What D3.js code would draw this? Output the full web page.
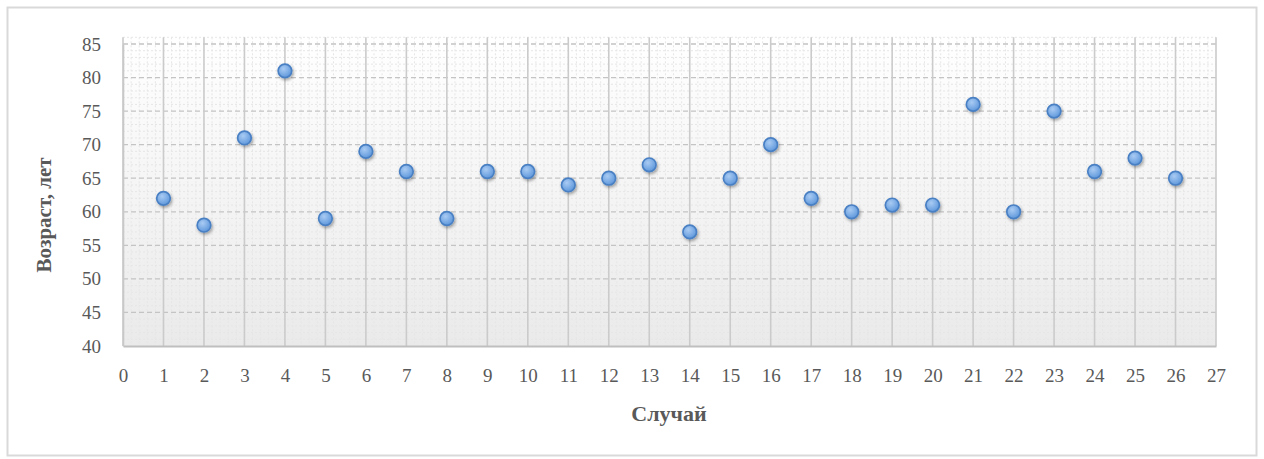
<!DOCTYPE html>
<html>
<head>
<meta charset="utf-8">
<script src="https://cdn.jsdelivr.net/npm/d3@7"></script>
<style>
  html, body { margin: 0; padding: 0; background: #fff; }
  svg { display: block; }
  .tick text { font-family: "Liberation Serif", "Times New Roman", serif; }
</style>
</head>
<body>
<svg id="chart" width="1264" height="459"></svg>
<script>
// Case numbers and patient ages
const cases = [1, 2, 3, 4, 5, 6, 7, 8, 9, 10, 11, 12, 13, 14, 15, 16, 17, 18, 19, 20, 21, 22, 23, 24, 25, 26];
const ages  = [62, 58, 71, 81, 59, 69, 66, 59, 66, 66, 64, 65, 67, 57, 65, 70, 62, 60, 61, 61, 76, 60, 75, 66, 68, 65];
const xTicks = d3.range(0, 28, 1);
const yTicks = d3.range(40, 90, 5);
const xTitle = "Случай";
const yTitle = "Возраст, лет";

const svg = d3.select("#chart");

// outer chart frame
svg.append("rect")
  .attr("x", 7.5).attr("y", 7.5).attr("width", 1249).attr("height", 448)
  .attr("fill", "#fff").attr("stroke", "#d9d9d9").attr("stroke-width", 2);

const x = d3.scaleLinear().domain([0, 27]).range([123, 1216]);
const y = d3.scaleLinear().domain([40, 85]).range([346, 44]);
const yTop = y(86);

const defs = svg.append("defs");
const bg = defs.append("linearGradient").attr("id", "plotBg")
  .attr("x1", 0).attr("y1", 0).attr("x2", 0).attr("y2", 1);
bg.append("stop").attr("offset", "0%").attr("stop-color", "#ffffff");
bg.append("stop").attr("offset", "100%").attr("stop-color", "#eaeaea");

const mk = defs.append("radialGradient").attr("id", "dotFill")
  .attr("cx", "40%").attr("cy", "35%").attr("r", "65%");
mk.append("stop").attr("offset", "0%").attr("stop-color", "#a9cbf3");
mk.append("stop").attr("offset", "100%").attr("stop-color", "#5f98dc");

const sh = defs.append("filter").attr("id", "dotShadow")
  .attr("x", "-50%").attr("y", "-50%").attr("width", "200%").attr("height", "200%");
sh.append("feDropShadow").attr("dx", 1.2).attr("dy", 1.8).attr("stdDeviation", 1.5)
  .attr("flood-color", "#000").attr("flood-opacity", 0.35);

// plot area
svg.append("rect")
  .attr("x", x(0)).attr("y", yTop)
  .attr("width", x(27) - x(0)).attr("height", y(40) - yTop)
  .attr("fill", "url(#plotBg)");

const grid = svg.append("g");

// minor gridlines
grid.selectAll("line.minx").data(d3.range(0, 27.001, 0.2).filter(v => Math.abs(v - Math.round(v)) > 1e-6))
  .join("line").attr("class", "minx")
  .attr("x1", d => x(d)).attr("x2", d => x(d))
  .attr("y1", yTop).attr("y2", y(40))
  .attr("stroke", "#e6e6e6").attr("stroke-width", 1).attr("stroke-dasharray", "2,2");
grid.selectAll("line.miny").data(d3.range(41, 87, 1).filter(v => v % 5 !== 0))
  .join("line").attr("class", "miny")
  .attr("x1", x(0)).attr("x2", x(27))
  .attr("y1", d => y(d)).attr("y2", d => y(d))
  .attr("stroke", "#e6e6e6").attr("stroke-width", 1).attr("stroke-dasharray", "2,2");

// major horizontal gridlines (dashed)
grid.selectAll("line.majy").data(yTicks.filter(v => v > 40))
  .join("line").attr("class", "majy")
  .attr("x1", x(0)).attr("x2", x(27))
  .attr("y1", d => y(d)).attr("y2", d => y(d))
  .attr("stroke", "#c4c4c4").attr("stroke-width", 1.3).attr("stroke-dasharray", "5,3");

// major vertical gridlines
grid.selectAll("line.majx").data(xTicks)
  .join("line").attr("class", "majx")
  .attr("x1", d => x(d)).attr("x2", d => x(d))
  .attr("y1", yTop).attr("y2", y(40))
  .attr("stroke", "#cbcbcb").attr("stroke-width", 1.6);

// axes
const xAxis = svg.append("g").attr("transform", `translate(0,${y(40)})`)
  .call(d3.axisBottom(x).tickValues(xTicks).tickSize(0).tickPadding(23).tickFormat(d3.format("d")));
xAxis.select(".domain").attr("stroke", "#bfbfbf").attr("stroke-width", 2);
xAxis.selectAll(".tick text").attr("font-size", 19).attr("fill", "#595959");

const yAxis = svg.append("g").attr("transform", `translate(${x(0)},0)`)
  .call(d3.axisLeft(y).tickValues(yTicks).tickSize(0).tickPadding(22));
yAxis.select(".domain").attr("stroke", "#c8c8c8").attr("stroke-width", 1.6);
yAxis.selectAll(".tick text").attr("font-size", 19).attr("fill", "#595959");

// data points
svg.append("g").selectAll("circle").data(cases)
  .join("circle")
  .attr("cx", d => x(d)).attr("cy", (d, i) => y(ages[i]))
  .attr("r", 6.8)
  .attr("fill", "url(#dotFill)")
  .attr("stroke", "#4a80c4").attr("stroke-width", 1.7)
  .attr("filter", "url(#dotShadow)");

// axis titles
svg.append("text")
  .attr("x", 669).attr("y", 421)
  .attr("text-anchor", "middle")
  .attr("font-family", "'Liberation Serif', 'Times New Roman', serif")
  .attr("font-weight", "bold").attr("font-size", 22).attr("fill", "#595959")
  .text(xTitle);

svg.append("text")
  .attr("transform", "translate(51,215) rotate(-90)")
  .attr("text-anchor", "middle")
  .attr("font-family", "'Liberation Serif', 'Times New Roman', serif")
  .attr("font-weight", "bold").attr("font-size", 21).attr("fill", "#595959")
  .text(yTitle);
</script>
</body>
</html>
